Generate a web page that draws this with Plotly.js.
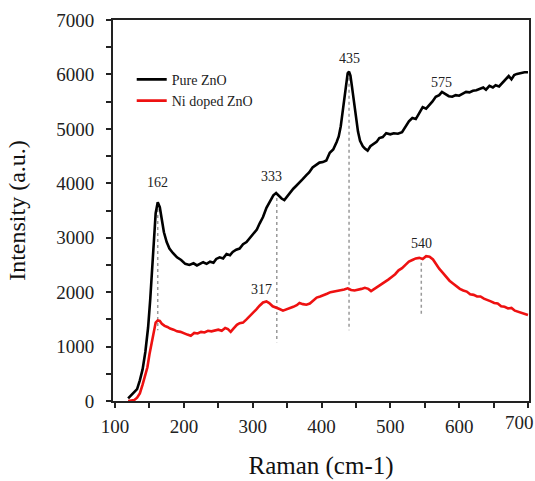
<!DOCTYPE html>
<html>
<head>
<meta charset="utf-8">
<script src="https://cdn.plot.ly/plotly-3.0.1.min.js"></script>
<style>html,body{margin:0;padding:0;background:#fff;}#chart{width:535px;height:481px;}</style>
</head>
<body>
<div id="chart"></div>
<script>
// Pure ZnO
const xPure = [119,124,128,132,136,140,144,148,151,153,156,159,162,165,168,171,175,179,184,190,196,202,208,214,219,223,228,233,238,243,247,252,257,262,267,271,276,281,286,291,296,301,306,310,315,320,325,330,334,338,342,346,350,355,359,363,368,373,378,382,387,392,397,402,407,412,417,422,425,428,431,434,436,438,440,442,444,447,450,453,456,460,463,467,471,476,480,484,489,494,500,505,511,517,522,527,532,537,542,547,552,557,561,566,571,575,580,585,590,595,600,605,610,615,620,625,630,635,639,644,649,653,658,663,668,672,676,680,684,687,691,695,700];
const yPure = [50,110,160,220,380,580,900,1350,1850,2250,2900,3450,3650,3560,3330,3100,2920,2800,2720,2640,2590,2520,2500,2530,2490,2510,2550,2520,2560,2540,2610,2640,2620,2700,2680,2740,2780,2800,2880,2920,2990,3060,3150,3260,3380,3550,3680,3780,3820,3770,3720,3690,3760,3850,3900,3950,4010,4080,4150,4200,4290,4330,4380,4390,4420,4560,4620,4760,4860,5050,5350,5700,5900,6020,6050,5980,5800,5500,5200,4950,4780,4680,4640,4600,4680,4720,4760,4830,4850,4920,4900,4920,4910,4940,5030,5140,5200,5180,5290,5400,5370,5440,5500,5590,5620,5680,5640,5600,5590,5620,5610,5650,5680,5670,5700,5710,5730,5760,5720,5790,5760,5800,5780,5850,5900,5970,5910,5990,6010,6020,6030,6040,6040];
// Ni doped ZnO
const xNi = [119,124,128,132,136,140,144,147,150,153,156,159,162,165,168,172,176,180,185,190,195,200,205,210,215,220,225,230,235,240,245,250,255,260,264,268,272,277,281,286,291,296,300,305,310,315,320,324,329,334,339,344,349,354,359,364,368,373,378,383,388,393,398,403,408,413,418,423,428,433,438,443,448,453,458,463,468,472,477,482,487,492,497,502,507,512,517,522,527,532,537,542,547,552,557,562,566,571,576,581,586,591,596,601,606,611,616,621,626,631,636,641,646,651,656,661,666,671,676,681,686,691,696,700];
const yNi = [0,10,20,60,140,300,480,620,860,1070,1300,1440,1480,1470,1420,1380,1360,1330,1310,1280,1270,1240,1220,1200,1250,1240,1270,1260,1290,1280,1300,1310,1290,1340,1320,1270,1330,1400,1430,1440,1500,1560,1620,1680,1750,1810,1830,1800,1740,1720,1690,1660,1680,1700,1730,1760,1800,1780,1770,1790,1850,1900,1920,1940,1970,2000,2010,2030,2040,2050,2070,2040,2030,2040,2060,2080,2060,2020,2060,2110,2150,2190,2230,2280,2330,2400,2440,2500,2560,2590,2620,2630,2610,2660,2650,2600,2520,2430,2360,2280,2210,2160,2110,2060,2030,2010,1960,1950,1920,1920,1880,1860,1830,1800,1790,1740,1730,1700,1710,1660,1640,1610,1600,1580];
// Peak guide lines (dotted)
const guideX = [162, 335, 440, 545];
const guideTop = [3640, 3730, 5940, 2540];
const guideBottom = [1300, 1080, 1300, 1580];
// Peak labels
const peakLabels = ["162", "333", "435", "575", "317", "540"];
const labelX = [162, 327, 440, 574, 313, 545];
const labelY = [4010, 4120, 6300, 5850, 2040, 2900];
const xTicks = [100, 200, 300, 400, 500, 600, 700];
const xTickText = ["100", "200", "300", "400", "500", "600", ""];
const lastTickLabel = "700";
const yTicks = [0, 1000, 2000, 3000, 4000, 5000, 6000, 7000];

const serif = "Liberation Serif, Times New Roman, serif";
const traces = [];
guideX.forEach((gx, i) => {
  traces.push({x: [gx, gx], y: [guideTop[i], guideBottom[i]], mode: 'lines', showlegend: false, hoverinfo: 'skip',
    line: {color: '#999999', width: 1.5, dash: 'dot'}});
});
traces.push({x: xPure, y: yPure, mode: 'lines', name: 'Pure ZnO', legendgroup: 'a', line: {color: '#000000', width: 2.6}});
traces.push({x: xNi, y: yNi, mode: 'lines', name: 'Ni doped ZnO', legendgroup: 'b', line: {color: '#ee1111', width: 2.6}});

const annotations = peakLabels.map((t, i) => ({x: labelX[i], y: labelY[i], text: t, showarrow: false,
  font: {family: serif, size: 14, color: '#222'}}));
annotations.push({x: 700, xref: 'x', y: 0, yref: 'paper', yanchor: 'top', xanchor: 'right', xshift: 8, yshift: -9,
  text: lastTickLabel, showarrow: false, font: {family: serif, size: 19, color: '#222'}});

const layout = {
  width: 535, height: 481,
  margin: {l: 113, r: 6, t: 20, b: 80},
  paper_bgcolor: '#fff', plot_bgcolor: '#fff',
  showlegend: true,
  legend: {x: 0.045, y: 0.885, xanchor: 'left', yanchor: 'top', bgcolor: 'rgba(0,0,0,0)',
    font: {family: serif, size: 14, color: '#222'}, tracegroupgap: 4, traceorder: 'normal'},
  xaxis: {range: [97, 701.5], tickvals: xTicks, ticktext: xTickText,
    ticks: 'outside', ticklen: 5, tickwidth: 2, tickcolor: '#222',
    minor: {dtick: 50, ticks: 'outside', ticklen: 5, tickwidth: 2, tickcolor: '#222', tick0: 100},
    showline: true, linecolor: '#222', linewidth: 2, mirror: true, showgrid: false, zeroline: false,
    ticklabelstandoff: 2,
    tickfont: {family: serif, size: 19, color: '#222'},
    title: {text: 'Raman (cm-1)', font: {family: serif, size: 25, color: '#111'}, standoff: 21}},
  yaxis: {range: [0, 7000], tickvals: yTicks, ticks: 'outside', ticklen: 5, tickwidth: 2, tickcolor: '#222',
    minor: {dtick: 500, ticks: 'outside', ticklen: 5, tickwidth: 2, tickcolor: '#222'},
    showline: true, linecolor: '#222', linewidth: 2, mirror: true, showgrid: false, zeroline: false,
    ticklabelstandoff: 8,
    tickfont: {family: serif, size: 19, color: '#222'},
    title: {text: 'Intensity (a.u.)', font: {family: serif, size: 24, color: '#111'}, standoff: 24}},
  annotations: annotations
};
Plotly.newPlot('chart', traces, layout, {displayModeBar: false, staticPlot: true});
</script>
</body>
</html>
